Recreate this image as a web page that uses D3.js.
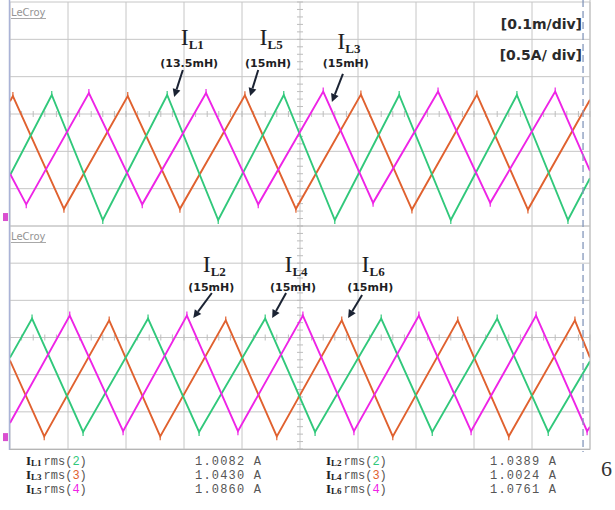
<!DOCTYPE html>
<html>
<head>
<meta charset="utf-8">
<script src="https://cdn.jsdelivr.net/npm/d3@7/dist/d3.min.js"></script>
<style>
  body { margin: 0; background: #fff; }
  svg { display: block; }
</style>
</head>
<body>
<div id="chart"></div>
<script>
// Scope capture: 0.1 ms/div, 0.5 A/div, two split panels with three inductor currents each

// time (ms) and current (A) at each corner of the triangle waves
var topGreenT   = [0, 0.072, 0.160, 0.271, 0.359, 0.472, 0.560, 0.671, 0.760, 0.874, 0.962, 1.0]
var topGreenA   = [-0.82, 0.255, -1.42, 0.255, -1.42, 0.255, -1.42, 0.255, -1.42, 0.255, -1.42, -0.86]
var topOrangeT  = [0, 0.005, 0.093, 0.203, 0.293, 0.405, 0.493, 0.605, 0.693, 0.805, 0.893, 1.0]
var topOrangeA  = [0.17, 0.24, -1.27, 0.24, -1.27, 0.25, -1.27, 0.26, -1.28, 0.26, -1.28, 0.19]
var topMagentaT = [0, 0.028, 0.136, 0.228, 0.338, 0.428, 0.540, 0.626, 0.738, 0.828, 0.940, 1.0]
var topMagentaA = [-0.80, -1.21, 0.28, -1.21, 0.28, -1.21, 0.30, -1.19, 0.30, -1.19, 0.30, -0.76]

var botGreenT   = [0, 0.038, 0.126, 0.238, 0.326, 0.440, 0.526, 0.640, 0.728, 0.840, 0.928, 1.0]
var botGreenA   = [-0.27, 0.255, -1.27, 0.255, -1.27, 0.255, -1.27, 0.255, -1.27, 0.255, -1.27, -0.32]
var botMagentaT = [0, 0.103, 0.195, 0.305, 0.393, 0.505, 0.593, 0.705, 0.795, 0.907, 0.995, 1.0]
var botMagentaA = [-1.15, 0.295, -1.26, 0.295, -1.26, 0.295, -1.26, 0.295, -1.26, 0.295, -1.26, -1.20]
var botOrangeT  = [0, 0.059, 0.171, 0.259, 0.372, 0.460, 0.572, 0.660, 0.772, 0.860, 0.974, 1.0]
var botOrangeA  = [-0.31, -1.33, 0.23, -1.33, 0.23, -1.33, 0.23, -1.33, 0.23, -1.33, 0.23, -0.27]

// annotations: name, inductance, text anchor (t, A), "I" baseline (A), arrow tail and tip (t, A)
var topAnnNames = ["L1", "L5", "L3"]
var topAnnMh    = ["(13.5mH)", "(15mH)", "(15mH)"]
var topAnnT     = [0.309, 0.445, 0.579]
var topAnnA     = [0.629, 0.629, 0.629]
var topAnnIA    = [0.924, 0.924, 0.870]
var topTailT    = [0.298, 0.428, 0.574]
var topTailA    = [0.589, 0.589, 0.536]
var topTipT     = [0.283, 0.414, 0.555]
var topTipA     = [0.228, 0.241, 0.161]

var botAnnNames = ["L2", "L4", "L6"]
var botAnnMh    = ["(15mH)", "(15mH)", "(15mH)"]
var botAnnT     = [0.347, 0.488, 0.621]
var botAnnA     = [0.626, 0.626, 0.626]
var botAnnIA    = [0.881, 0.881, 0.881]
var botTailT    = [0.348, 0.476, 0.607]
var botTailA    = [0.599, 0.599, 0.572]
var botTipT     = [0.316, 0.452, 0.583]
var botTipA     = [0.262, 0.262, 0.262]

// ground markers and cursor
var groundA = [-1.38, -1.34]
var cursorT = 0.988

// measurement readout
var rmsLeftNames  = ["L1", "L3", "L5"]
var rmsRightNames = ["L2", "L4", "L6"]
var rmsChannels   = ["2", "3", "4"]
var rmsLeftVals   = ["1.0082 A", "1.0430 A", "1.0860 A"]
var rmsRightVals  = ["1.0389 A", "1.0024 A", "1.0761 A"]

var scaleLabels = ["[0.1m/div]", "[0.5A/ div]"]

var green = "#31c87b", orange = "#e0612f", magenta = "#ee24e6"
var chanColor = { "2": green, "3": orange, "4": magenta }

var width = 615, height = 510

var svg = d3.select("#chart").append("svg")
    .attr("width", width)
    .attr("height", height)

svg.append("rect").attr("width", width).attr("height", height).attr("fill", "#fff")

var x = d3.scaleLinear().domain([0, 1.0]).range([10, 590])

function zip(t, a) {
  return t.map(function(d, i){ return [d, a[i]] })
}

var panels = [
  {
    y: d3.scaleLinear().domain([-1.5, 1.5]).range([226, 2]),
    traces: [
      { color: orange,  pts: zip(topOrangeT, topOrangeA) },
      { color: green,   pts: zip(topGreenT, topGreenA) },
      { color: magenta, pts: zip(topMagentaT, topMagentaA) }
    ],
    ann: topAnnNames.map(function(n, i){
      return { name: n, mh: topAnnMh[i], t: topAnnT[i], a: topAnnA[i], ia: topAnnIA[i],
               tailT: topTailT[i], tailA: topTailA[i], tipT: topTipT[i], tipA: topTipA[i] }
    }),
    ground: groundA[0]
  },
  {
    y: d3.scaleLinear().domain([-1.5, 1.5]).range([449, 226]),
    traces: [
      { color: orange,  pts: zip(botOrangeT, botOrangeA) },
      { color: green,   pts: zip(botGreenT, botGreenA) },
      { color: magenta, pts: zip(botMagentaT, botMagentaA) }
    ],
    ann: botAnnNames.map(function(n, i){
      return { name: n, mh: botAnnMh[i], t: botAnnT[i], a: botAnnA[i], ia: botAnnIA[i],
               tailT: botTailT[i], tailA: botTailA[i], tipT: botTipT[i], tipA: botTipA[i] }
    }),
    ground: groundA[1]
  }
]

panels.forEach(function(p, pi){
  var y = p.y
  var g = svg.append("g")
  var y0 = y.range()[0], y1 = y.range()[1]

  // grid
  g.selectAll(".vgrid").data(x.ticks(10)).enter().append("line")
    .attr("x1", function(d){ return x(d) }).attr("x2", function(d){ return x(d) })
    .attr("y1", y1).attr("y2", y0)
    .attr("stroke", "#c6c6c6").attr("stroke-width", 1)
  g.selectAll(".hgrid").data(y.ticks(6)).enter().append("line")
    .attr("x1", x(0)).attr("x2", x(1))
    .attr("y1", function(d){ return y(d) }).attr("y2", function(d){ return y(d) })
    .attr("stroke", "#c6c6c6").attr("stroke-width", 1)

  // minor ticks on the centre lines
  g.selectAll(".xminor").data(x.ticks(50)).enter().append("line")
    .attr("x1", function(d){ return x(d) }).attr("x2", function(d){ return x(d) })
    .attr("y1", y(0) - 3).attr("y2", y(0) + 3)
    .attr("stroke", "#bdbdbd")
  g.selectAll(".yminor").data(y.ticks(30)).enter().append("line")
    .attr("x1", x(0.5) - 3).attr("x2", x(0.5) + 3)
    .attr("y1", function(d){ return y(d) }).attr("y2", function(d){ return y(d) })
    .attr("stroke", "#bdbdbd")

  // LeCroy badge
  g.append("text")
    .attr("x", x(0) + 1).attr("y", y1 + 14)
    .attr("font-family", "DejaVu Sans").attr("font-size", 10)
    .attr("fill", "#949494").text("LeCroy")
  g.append("line")
    .attr("x1", x(0) + 1).attr("x2", x(0) + 36)
    .attr("y1", y1 + 16.5).attr("y2", y1 + 16.5)
    .attr("stroke", "#a8a8a8")

  // traces
  var clipId = "clip" + pi
  svg.append("clipPath").attr("id", clipId).append("rect")
    .attr("x", x(0)).attr("y", y1).attr("width", x(1) - x(0)).attr("height", y0 - y1)

  var line = d3.line()
    .x(function(d){ return x(d[0]) })
    .y(function(d){ return y(d[1]) })

  var tg = g.append("g").attr("clip-path", "url(#" + clipId + ")")
  p.traces.forEach(function(tr){
    tg.append("path")
      .datum(tr.pts)
      .attr("d", line)
      .attr("fill", "none")
      .attr("stroke", tr.color)
      .attr("stroke-width", 1.9)
      .attr("stroke-linejoin", "miter")

    // small switching spikes on the corners
    var inner = tr.pts.slice(1, -1)
    tg.selectAll(null).data(inner).enter().append("line")
      .attr("x1", function(d){ return x(d[0]) })
      .attr("x2", function(d){ return x(d[0]) })
      .attr("y1", function(d){ return y(d[1]) })
      .attr("y2", function(d){ return y(d[1]) + (d[1] > -0.5 ? -4 : 4) })
      .attr("stroke", tr.color).attr("stroke-width", 1.2)
  })

  // ground marker
  g.append("rect")
    .attr("x", 3).attr("y", y(p.ground) - 4)
    .attr("width", 5).attr("height", 8)
    .attr("fill", "#d94fd0")

  // annotations
  p.ann.forEach(function(a){
    var t = g.append("text")
      .attr("x", x(a.t) + 3).attr("y", y(a.ia))
      .attr("text-anchor", "middle")
      .attr("fill", "#1e1e24")
    t.append("tspan")
      .attr("font-family", "Liberation Serif").attr("font-size", 24)
      .text("I")
    t.append("tspan")
      .attr("font-family", "Liberation Serif").attr("font-weight", "bold")
      .attr("font-size", 13).attr("dy", 4)
      .text(a.name)

    g.append("text")
      .attr("x", x(a.t)).attr("y", y(a.a))
      .attr("text-anchor", "middle")
      .attr("font-family", "DejaVu Sans").attr("font-weight", "bold")
      .attr("font-size", 11).attr("fill", "#1e1e24")
      .text(a.mh)

    var x1 = x(a.tailT), y1a = y(a.tailA), x2 = x(a.tipT), y2 = y(a.tipA)
    var ang = Math.atan2(y2 - y1a, x2 - x1)
    var hl = 8, hw = 4
    var bx = x2 - hl * Math.cos(ang), by = y2 - hl * Math.sin(ang)
    g.append("line")
      .attr("x1", x1).attr("y1", y1a).attr("x2", bx).attr("y2", by)
      .attr("stroke", "#1b2333").attr("stroke-width", 2)
    g.append("path")
      .attr("d", "M" + x2 + "," + y2 +
                 "L" + (bx + hw * Math.sin(ang)) + "," + (by - hw * Math.cos(ang)) +
                 "L" + (bx - hw * Math.sin(ang)) + "," + (by + hw * Math.cos(ang)) + "Z")
      .attr("fill", "#1b2333")
  })
})

// frame
svg.append("line").attr("x1", 9.5).attr("x2", 9.5).attr("y1", 0).attr("y2", 450)
  .attr("stroke", "#aab3d6").attr("stroke-width", 1.5)
svg.append("line").attr("x1", x(1)).attr("x2", x(1)).attr("y1", 0).attr("y2", 450)
  .attr("stroke", "#bfbfbf")
svg.append("line").attr("x1", x(0)).attr("x2", x(1)).attr("y1", 449.5).attr("y2", 449.5)
  .attr("stroke", "#b5b5b5")

// cursor
svg.append("line").attr("x1", x(cursorT)).attr("x2", x(cursorT)).attr("y1", 0).attr("y2", 452)
  .attr("stroke", "#8497bb").attr("stroke-width", 1.3).attr("stroke-dasharray", "7,4")

// scale labels
svg.selectAll(".scl").data(scaleLabels).enter().append("text")
  .attr("x", 582).attr("y", function(d, i){ return 29 + i * 31 })
  .attr("text-anchor", "end")
  .attr("font-family", "DejaVu Sans").attr("font-weight", "bold").attr("font-size", 14)
  .attr("fill", "#2a2a2a")
  .text(function(d){ return d })

// rms readout
function rmsColumn(names, vals, xLab, xVal) {
  names.forEach(function(n, i){
    var yy = 465 + i * 14
    var t = svg.append("text").attr("x", xLab).attr("y", yy)
    t.append("tspan")
      .attr("font-family", "Liberation Serif").attr("font-weight", "bold")
      .attr("font-size", 13).attr("fill", "#222").text("I")
    t.append("tspan")
      .attr("font-family", "Liberation Serif").attr("font-weight", "bold")
      .attr("font-size", 9).attr("dy", 1).attr("fill", "#222").text(n)
    t.append("tspan")
      .attr("font-family", "Liberation Mono").attr("font-size", 12)
      .attr("dy", -1).attr("dx", 2).attr("fill", "#555").text("rms(")
    t.append("tspan")
      .attr("font-family", "Liberation Mono").attr("font-size", 12)
      .attr("fill", chanColor[rmsChannels[i]]).text(rmsChannels[i])
    t.append("tspan")
      .attr("font-family", "Liberation Mono").attr("font-size", 12)
      .attr("fill", "#555").text(")")

    svg.append("text").attr("x", xVal).attr("y", yy)
      .attr("font-family", "Liberation Mono").attr("font-size", 12)
      .attr("letter-spacing", 1.2)
      .attr("fill", "#555").text(vals[i])
  })
}
rmsColumn(rmsLeftNames, rmsLeftVals, 26, 195)
rmsColumn(rmsRightNames, rmsRightVals, 326, 490)

// stray page number at the right
svg.append("text").attr("x", 601).attr("y", 476)
  .attr("font-family", "Liberation Serif").attr("font-size", 22)
  .attr("fill", "#333").text("6")
</script>
</body>
</html>
